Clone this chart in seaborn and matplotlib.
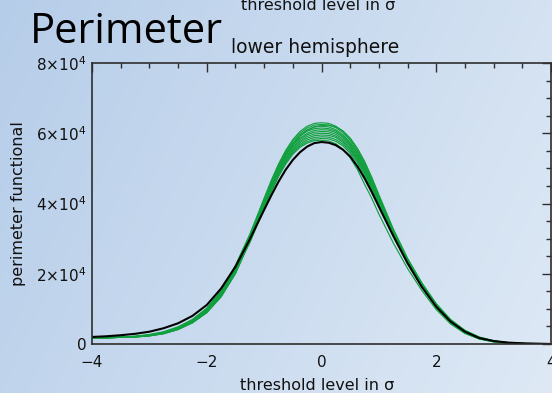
import numpy as np
import pandas as pd
import matplotlib
matplotlib.use("Agg")
import matplotlib.pyplot as plt
from matplotlib.ticker import MultipleLocator, FuncFormatter
import seaborn as sns

# threshold levels (in sigma); finer sampling around the peak
nu = [-4.0, -3.75, -3.5, -3.25, -3.0, -2.75, -2.5, -2.25, -2.0, -1.75, -1.5, -1.25,
      -1.0, -0.875, -0.75, -0.625, -0.5, -0.375, -0.25, -0.125, 0.0,
      0.125, 0.25, 0.375, 0.5, 0.625, 0.75, 0.875, 1.0,
      1.25, 1.5, 1.75, 2.0, 2.25, 2.5, 2.75, 3.0, 3.25, 3.5, 3.75, 4.0]

# observed perimeter functional (units of 1e4)
observed = [0.20, 0.22, 0.25, 0.29, 0.35, 0.45, 0.59, 0.80, 1.11, 1.58, 2.20, 2.98,
            3.82, 4.23, 4.62, 4.96, 5.24, 5.46, 5.62, 5.72, 5.75,
            5.73, 5.66, 5.53, 5.34, 5.06, 4.72, 4.33, 3.91,
            3.08, 2.30, 1.62, 1.06, 0.64, 0.35, 0.17, 0.085, 0.04, 0.02, 0.01, 0.0]

# simulated realisations (units of 1e4)
sim_a = [0.18, 0.18, 0.19, 0.21, 0.25, 0.33, 0.47, 0.68, 1.00, 1.50, 2.22, 3.10,
         4.15, 4.66, 5.12, 5.51, 5.82, 6.05, 6.20, 6.28, 6.30,
         6.28, 6.20, 6.06, 5.85, 5.56, 5.18, 4.72, 4.22,
         3.25, 2.42, 1.72, 1.13, 0.68, 0.38, 0.19, 0.09, 0.04, 0.015, 0.005, 0.0]
sim_b = [0.18, 0.18, 0.19, 0.22, 0.26, 0.33, 0.46, 0.66, 0.97, 1.46, 2.16, 3.05,
         4.10, 4.61, 5.08, 5.47, 5.78, 6.00, 6.15, 6.23, 6.25,
         6.23, 6.16, 6.02, 5.80, 5.50, 5.12, 4.66, 4.16,
         3.22, 2.40, 1.70, 1.11, 0.66, 0.36, 0.18, 0.08, 0.035, 0.015, 0.005, 0.0]
sim_c = [0.18, 0.18, 0.20, 0.22, 0.27, 0.35, 0.49, 0.70, 1.02, 1.52, 2.24, 3.12,
         4.12, 4.61, 5.05, 5.43, 5.72, 5.95, 6.10, 6.18, 6.20,
         6.18, 6.10, 5.96, 5.74, 5.45, 5.08, 4.63, 4.14,
         3.20, 2.38, 1.68, 1.10, 0.66, 0.37, 0.18, 0.08, 0.035, 0.015, 0.005, 0.0]
sim_d = [0.18, 0.18, 0.19, 0.21, 0.24, 0.31, 0.43, 0.62, 0.92, 1.38, 2.06, 2.98,
         4.02, 4.53, 5.00, 5.39, 5.70, 5.92, 6.06, 6.13, 6.15,
         6.13, 6.06, 5.92, 5.70, 5.42, 5.05, 4.60, 4.12,
         3.18, 2.37, 1.68, 1.09, 0.65, 0.35, 0.17, 0.08, 0.035, 0.015, 0.005, 0.0]
sim_e = [0.18, 0.18, 0.19, 0.21, 0.25, 0.32, 0.45, 0.65, 0.96, 1.43, 2.12, 3.02,
         4.05, 4.53, 4.98, 5.36, 5.65, 5.86, 6.00, 6.08, 6.10,
         6.09, 6.02, 5.88, 5.66, 5.37, 5.00, 4.56, 4.08,
         3.16, 2.36, 1.67, 1.08, 0.64, 0.35, 0.17, 0.08, 0.03, 0.01, 0.005, 0.0]
sim_f = [0.18, 0.18, 0.19, 0.20, 0.24, 0.30, 0.42, 0.61, 0.90, 1.36, 2.03, 2.95,
         3.98, 4.48, 4.94, 5.31, 5.60, 5.82, 5.96, 6.03, 6.05,
         6.04, 5.97, 5.83, 5.62, 5.33, 4.97, 4.53, 4.06,
         3.15, 2.35, 1.66, 1.07, 0.63, 0.34, 0.16, 0.07, 0.03, 0.01, 0.005, 0.0]
sim_g = [0.18, 0.18, 0.19, 0.21, 0.25, 0.32, 0.44, 0.64, 0.94, 1.40, 2.08, 2.96,
         3.96, 4.45, 4.90, 5.27, 5.56, 5.77, 5.91, 5.98, 6.00,
         5.99, 5.92, 5.78, 5.57, 5.29, 4.93, 4.50, 4.03,
         3.13, 2.34, 1.66, 1.07, 0.63, 0.34, 0.16, 0.07, 0.03, 0.01, 0.005, 0.0]
sim_h = [0.18, 0.18, 0.19, 0.20, 0.23, 0.29, 0.41, 0.60, 0.89, 1.34, 2.00, 2.92,
         3.93, 4.42, 4.86, 5.23, 5.52, 5.73, 5.86, 5.93, 5.95,
         5.94, 5.88, 5.74, 5.53, 5.26, 4.90, 4.47, 4.00,
         3.12, 2.33, 1.65, 1.06, 0.62, 0.33, 0.16, 0.07, 0.03, 0.01, 0.005, 0.0]
sim_i = [0.18, 0.18, 0.19, 0.21, 0.25, 0.33, 0.46, 0.66, 0.97, 1.44, 2.12, 2.94,
         3.92, 4.40, 4.84, 5.20, 5.48, 5.68, 5.81, 5.88, 5.90,
         5.89, 5.82, 5.69, 5.48, 5.21, 4.86, 4.44, 3.98,
         3.10, 2.32, 1.64, 1.05, 0.61, 0.32, 0.15, 0.07, 0.03, 0.01, 0.005, 0.0]
sim_j = [0.18, 0.18, 0.19, 0.20, 0.24, 0.30, 0.42, 0.62, 0.91, 1.37, 2.04, 2.90,
         3.88, 4.36, 4.80, 5.16, 5.44, 5.64, 5.76, 5.83, 5.85,
         5.84, 5.77, 5.64, 5.43, 5.16, 4.80, 4.39, 3.94,
         3.08, 2.31, 1.63, 1.04, 0.60, 0.31, 0.15, 0.065, 0.03, 0.01, 0.005, 0.0]
sim_k = [0.18, 0.18, 0.19, 0.21, 0.25, 0.32, 0.45, 0.65, 0.95, 1.42, 2.10, 2.88,
         3.86, 4.33, 4.76, 5.12, 5.40, 5.60, 5.72, 5.79, 5.80,
         5.78, 5.70, 5.54, 5.30, 4.97, 4.55, 4.15, 3.70,
         2.88, 2.15, 1.52, 0.98, 0.57, 0.30, 0.14, 0.06, 0.025, 0.01, 0.005, 0.0]
sim_l = [0.18, 0.18, 0.19, 0.20, 0.23, 0.30, 0.42, 0.61, 0.90, 1.35, 2.02, 2.95,
         4.00, 4.51, 4.98, 5.37, 5.68, 5.92, 6.08, 6.18, 6.22,
         6.23, 6.18, 6.06, 5.86, 5.57, 5.20, 4.75, 4.25,
         3.28, 2.44, 1.74, 1.15, 0.70, 0.39, 0.20, 0.09, 0.04, 0.015, 0.005, 0.0]

simulations = [sim_a, sim_b, sim_c, sim_d, sim_e, sim_f,
               sim_g, sim_h, sim_i, sim_j, sim_k, sim_l]

x_ticks = [-4, -2, 0, 2, 4]
y_ticks = [0, 20000, 40000, 60000, 80000]

SCALE = 1e4
GREEN = "#10a03e"
INK = "#111111"
W, H = 552, 393

sns.set_theme(style="white")
plt.rcParams["font.family"] = ["DejaVu Sans"]
plt.rcParams["mathtext.fontset"] = "dejavusans"

fig = plt.figure(figsize=(W / 100, H / 100), dpi=100)

# soft blue gradient backdrop
bg = fig.add_axes([0, 0, 1, 1], zorder=0)
gx, gy = np.meshgrid(np.linspace(0, 1, 300), np.linspace(0, 1, 220))
t = np.clip(0.75 * gx + 0.25 * gy, 0, 1)
c0 = np.array([182, 205, 233]) / 255.0
c1 = np.array([222, 233, 245]) / 255.0
img = c0[None, None, :] * (1 - t[..., None]) + c1[None, None, :] * t[..., None]
bg.imshow(img, aspect="auto", extent=[0, 1, 0, 1], origin="upper")
bg.set_axis_off()

ax = fig.add_axes([92 / W, 49 / H, 459 / W, 281 / H], zorder=1)
ax.patch.set_alpha(0)

rows = []
for k, run in enumerate(simulations):
    for xv, yv in zip(nu, run):
        rows.append({"nu": xv, "perimeter": yv * SCALE, "run": k})
sim_df = pd.DataFrame(rows)
obs_df = pd.DataFrame({"nu": nu, "perimeter": np.array(observed) * SCALE})

sns.lineplot(data=sim_df, x="nu", y="perimeter", units="run", estimator=None,
             color=GREEN, linewidth=0.85, ax=ax, legend=False)
sns.lineplot(data=obs_df, x="nu", y="perimeter", color="black",
             linewidth=1.5, ax=ax, legend=False)

ax.set_xlim(-4, 4)
ax.set_ylim(0, 80000)
ax.set_xticks(x_ticks)
ax.set_yticks(y_ticks)
ax.xaxis.set_minor_locator(MultipleLocator(0.5))
ax.yaxis.set_minor_locator(MultipleLocator(5000))


def sci_label(v, pos):
    if v == 0:
        return "0"
    return r"%d$\times$10$^{4}$" % round(v / 1e4)


def minus_label(v, pos):
    return ("%d" % v).replace("-", "\u2212")


ax.yaxis.set_major_formatter(FuncFormatter(sci_label))
ax.xaxis.set_major_formatter(FuncFormatter(minus_label))

spine_col = "#2e2e2e"
for s in ax.spines.values():
    s.set_color(spine_col)
    s.set_linewidth(1.2)
ax.tick_params(which="both", direction="in", top=True, right=True,
               color=spine_col, width=1.0)
ax.tick_params(which="major", length=6.5)
ax.tick_params(which="minor", length=3.5)
ax.tick_params(axis="x", labelsize=11, pad=8, labelcolor=INK)
ax.tick_params(axis="y", labelsize=11, pad=4, labelcolor=INK)

ax.set_xlabel("threshold level in \u03c3", fontsize=11.5, color=INK)
ax.xaxis.set_label_coords((317 - 92) / 459, (344 - 390) / 281)
ax.xaxis.label.set_va("baseline")
ax.set_ylabel("perimeter functional", fontsize=11.5, color=INK)
ax.yaxis.set_label_coords((26 - 92) / 459, 0.5)

fig.text(30 / W, 1 - 42.7 / H, "Perimeter", fontsize=30,
         family=["Open Sans", "DejaVu Sans"], color="black", va="baseline")
fig.text(231 / W, 1 - 52.7 / H, "lower hemisphere", fontsize=13.5,
         color=INK, va="baseline")
fig.text(241 / W, 1 - 10 / H, "threshold level in \u03c3", fontsize=11.5,
         color=INK, ha="left", va="baseline")

fig.savefig("out.png", dpi=100)
